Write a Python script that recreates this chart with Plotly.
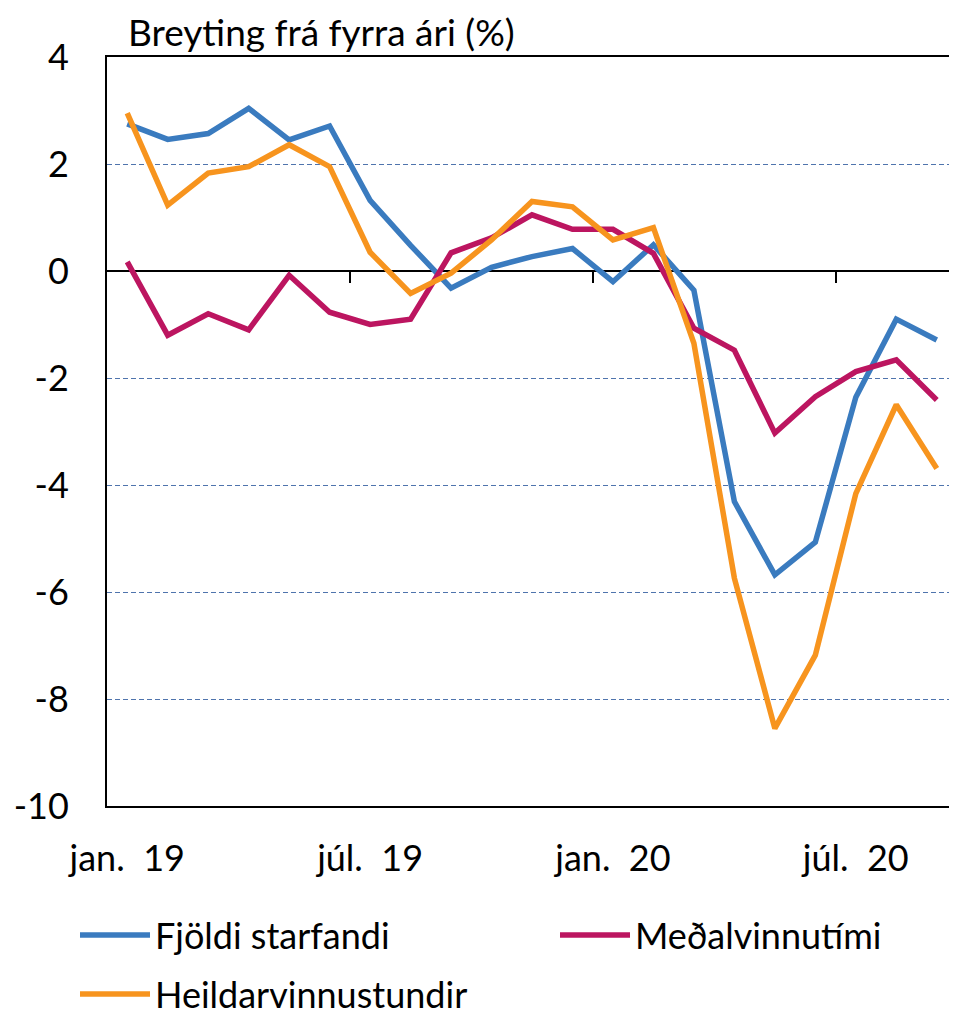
import plotly.graph_objects as go

months = ["jan. 19", "feb. 19", "mar. 19", "apr. 19", "maí 19", "jún. 19", "júl. 19",
          "ágú. 19", "sep. 19", "okt. 19", "nóv. 19", "des. 19",
          "jan. 20", "feb. 20", "mar. 20", "apr. 20", "maí 20", "jún. 20", "júl. 20",
          "ágú. 20", "sep. 20"]

fjoldi_starfandi = [2.75, 2.46, 2.57, 3.04, 2.45, 2.71, 1.32, 0.48, -0.32, 0.07, 0.27, 0.42,
                    -0.20, 0.49, -0.36, -4.31, -5.68, -5.07, -2.36, -0.90, -1.29]
medalvinnutimi = [0.17, -1.20, -0.80, -1.10, -0.08, -0.77, -1.00, -0.90, 0.34, 0.62, 1.05, 0.78,
                  0.78, 0.33, -1.07, -1.48, -3.03, -2.35, -1.88, -1.66, -2.41]
heildarvinnustundir = [2.95, 1.23, 1.83, 1.95, 2.36, 1.95, 0.35, -0.42, -0.04, 0.58, 1.30, 1.20,
                       0.58, 0.81, -1.35, -5.74, -8.55, -7.18, -4.16, -2.50, -3.69]

tick_vals = ["jan. 19", "júl. 19", "jan. 20", "júl. 20"]
tick_text = ["jan.\u00a0 19", "júl.\u00a0 19", "jan.\u00a0 20", "júl.\u00a0 20"]
y_ticks = [4, 2, 0, -2, -4, -6, -8, -10]
y_tick_text = ["4", "2", "0", "-2", "-4", "-6", "-8", "-10"]

FONT = "Lato, 'Open Sans', sans-serif"
BLUE = "#3A7BBF"
MAGENTA = "#BC1560"
ORANGE = "#F7941E"

# The page body has an 8px margin; size the figure so the plot area lands
# at the same window pixels as the reference (plot area x 107..957, y 57..806).
OFF = 8
W, H = 957 - OFF, 1015
ML, MT = 107 - OFF, 57 - OFF
MB = H - (806 - OFF)
PW, PH = W - ML, H - MT - MB


def px_x(x):
    return (x - 107) / PW


def px_y(y):
    return (806 - y) / PH


fig = go.Figure()
fig.add_trace(go.Scatter(x=months, y=fjoldi_starfandi, mode="lines", name="Fjöldi starfandi",
                         line=dict(color=BLUE, width=5.5), legend="legend2"))
fig.add_trace(go.Scatter(x=months, y=medalvinnutimi, mode="lines", name="Meðalvinnutími",
                         line=dict(color=MAGENTA, width=5.5), legend="legend3"))
fig.add_trace(go.Scatter(x=months, y=heildarvinnustundir, mode="lines", name="Heildarvinnustundir",
                         line=dict(color=ORANGE, width=5.5), legend="legend4"))
# helper trace for the tick axis drawn on the zero line
fig.add_trace(go.Scatter(x=[], y=[], xaxis="x2", showlegend=False, hoverinfo="skip"))

n = len(months)
legend_common = dict(orientation="h", xanchor="left", yanchor="middle",
                     font=dict(family=FONT, size=36, color="#000000"),
                     bgcolor="rgba(0,0,0,0)", itemwidth=70)

fig.update_layout(
    width=W, height=H,
    margin=dict(l=ML, r=0, t=MT, b=MB, autoexpand=False),
    paper_bgcolor="white", plot_bgcolor="white",
    font=dict(family=FONT, size=36, color="#000000"),
    showlegend=True,
    xaxis=dict(type="category", range=[-0.5, n - 0.5], tickmode="array",
               tickvals=tick_vals, ticktext=tick_text, ticks="",
               showline=True, linecolor="#000000", linewidth=2, mirror=True,
               showgrid=False, zeroline=False, ticklabelstandoff=20, automargin=False,
               tickfont=dict(family=FONT, size=36, color="#000000")),
    xaxis2=dict(overlaying="x", anchor="free", position=10 / 14, side="bottom",
                range=[-0.5, n - 0.5], tickmode="array", tickvals=[5.5, 11.5, 17.5],
                ticks="outside", ticklen=11, tickwidth=2, tickcolor="#000000",
                showticklabels=False, showline=False, showgrid=False, zeroline=False),
    yaxis=dict(range=[-10, 4], tickmode="array", tickvals=y_ticks, ticktext=y_tick_text,
               ticks="", showline=True, linecolor="#000000", linewidth=2,
               showgrid=True, gridcolor="#4F74AD", gridwidth=1, griddash="5px,3px",
               zeroline=True, zerolinecolor="#000000", zerolinewidth=2,
               ticklabelstandoff=29, automargin=False,
               tickfont=dict(family=FONT, size=36, color="#000000")),
    legend2=dict(x=px_x(75), y=px_y(935), **legend_common),
    legend3=dict(x=px_x(555), y=px_y(935), **legend_common),
    legend4=dict(x=px_x(75), y=px_y(994), **legend_common),
    annotations=[dict(text="Breyting frá fyrra ári (%)", xref="paper", yref="paper",
                      x=px_x(126), y=px_y(31), xanchor="left", yanchor="middle",
                      showarrow=False, font=dict(family=FONT, size=37, color="#000000"))],
)

fig.write_html("out.html")
